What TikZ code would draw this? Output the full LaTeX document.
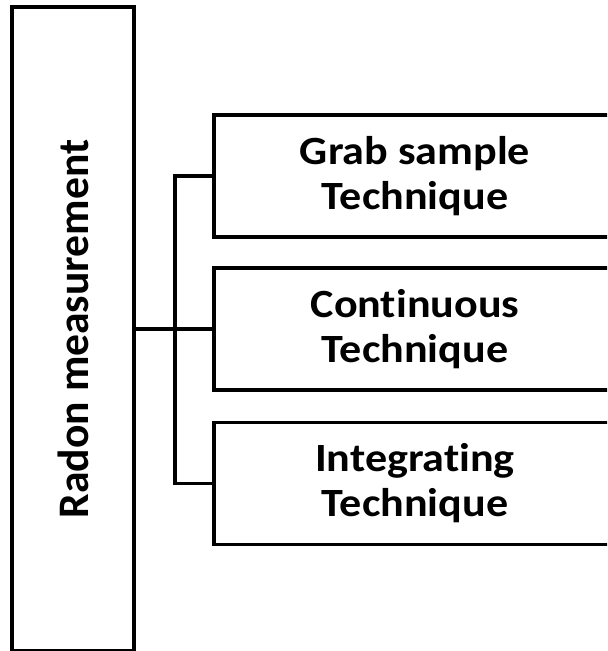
\documentclass[tikz,border=0pt]{standalone}
\usepackage{fontspec}
\setmainfont{Carlito}[Ligatures=NoCommon]
\newcommand{\widetext}[1]{\scalebox{1.1}[1]{#1}}
\tikzset{
  techbox/.style={draw, line width=2.5pt, minimum width=10.05cm, minimum height=3.05cm,
    align=center, font=\fontsize{28.5}{32}\selectfont\bfseries},
  link/.style={line width=2.5pt}
}
\begin{document}
\begin{tikzpicture}[x=0.025cm,y=-0.025cm]
    \clip (0,0) rectangle (607,651);
    \useasboundingbox (0,0) rectangle (607,651);
    \node [techbox, rotate=90, minimum width=16.1cm, minimum height=3.05cm,
      font=\fontsize{31}{36}\selectfont\bfseries] (radon) at (73,329) {Radon measurement};
    \node [techbox] (grab) at (415,176) {\widetext{Grab sample}\\\widetext{Technique}};
    \node [techbox] (cont) at (415,329) {\widetext{Continuous}\\\widetext{Technique}};
    \node [techbox] (integ) at (415,483.5) {\widetext{Integrating}\\\widetext{Technique}};
    \coordinate (fork) at (175,329);
    \draw [link] (radon.south) -- (cont.west);
    \draw [link] (grab.west) -| (fork) |- (integ.west);
  \end{tikzpicture}
\end{document}
